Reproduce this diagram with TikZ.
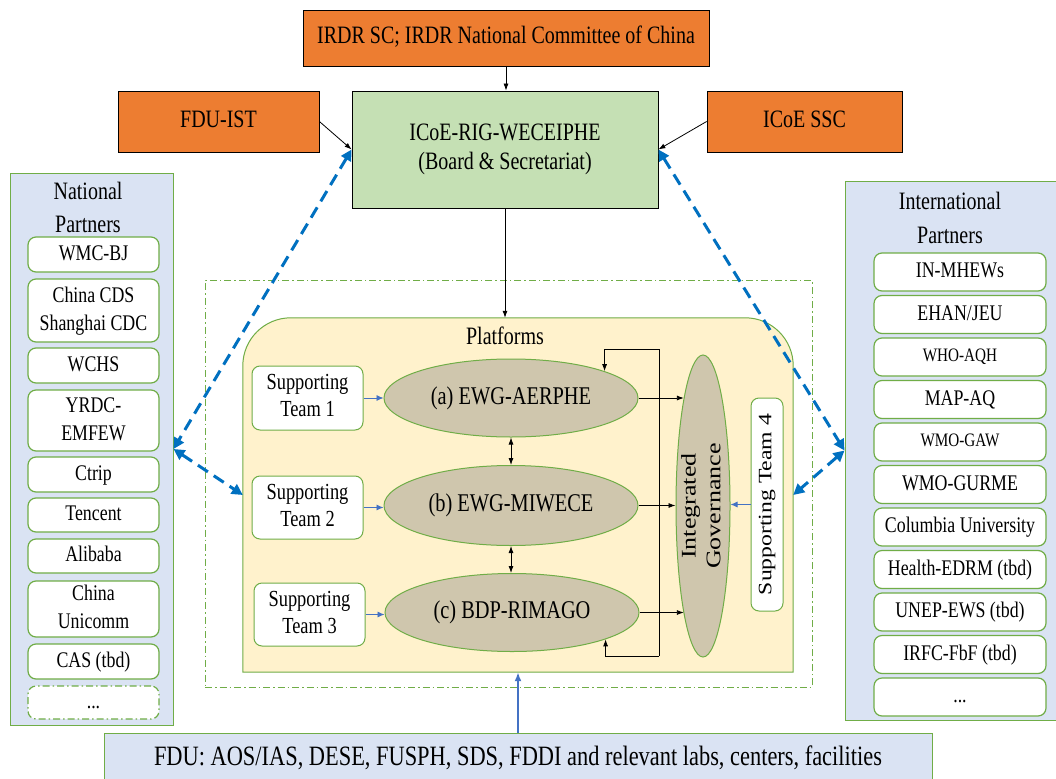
\documentclass[tikz,border=0pt]{standalone}
\usepackage{fontspec}
\setmainfont{Liberation Serif}
\usetikzlibrary{arrows.meta,shapes.geometric,calc}
\newcommand{\sq}[1]{\scalebox{0.8}[1]{\begin{tabular}{@{}c@{}}#1\end{tabular}}}
\newcommand{\sqv}[1]{\rotatebox{90}{\scalebox{1}[0.8]{\begin{tabular}{@{}c@{}}#1\end{tabular}}}}
\definecolor{orng}{HTML}{ED7D31}
\definecolor{rigg}{HTML}{C5E0B4}
\definecolor{pblue}{HTML}{DAE3F3}
\definecolor{bgreen}{HTML}{70AD47}
\definecolor{ylw}{HTML}{FFF2CC}
\definecolor{ellfill}{HTML}{CFC6AD}
\definecolor{dblue}{HTML}{0070C0}
\definecolor{lblue}{HTML}{4472C4}
\tikzset{
  orgbox/.style={draw=black, line width=0.8pt, fill=orng, font=\fontsize{25}{29}\selectfont, inner sep=0pt, align=center},
  rigbox/.style={orgbox, fill=rigg},
  panel/.style={draw=bgreen, line width=1pt, fill=pblue, inner sep=0pt},
  pbox/.style={draw=bgreen, line width=1.2pt, fill=white, rounded corners=8pt, font=\fontsize{22.3}{28}\selectfont, align=center, inner sep=0pt, minimum width=131pt},
  ibox/.style={pbox, minimum width=172pt, minimum height=38pt},
  stbox/.style={draw=bgreen, fill=white, rounded corners=8pt, line width=1pt, font=\fontsize{23}{27}\selectfont, align=center, inner sep=0pt},
  ellnode/.style={ellipse, draw=bgreen, line width=1pt, fill=ellfill, inner sep=0pt, font=\fontsize{25.5}{30}\selectfont},
  blk/.style={-{Latex[length=7pt,width=5pt]}, line width=0.8pt},
  dblk/.style={{Latex[length=7pt,width=5pt]}-{Latex[length=7pt,width=5pt]}, line width=0.8pt},
  thinblue/.style={-{Latex[length=7pt,width=6pt]}, draw=lblue, line width=0.8pt},
  dashblue/.style={{Triangle[length=11pt,width=11pt]}-{Triangle[length=11pt,width=11pt]}, draw=dblue, line width=3pt, dash pattern=on 12pt off 7pt},
  dashdot/.style={dash pattern=on 7pt off 3pt on 1.5pt off 3pt}
}
\begin{document}
\begin{tikzpicture}[x=1pt,y=-1pt]
\useasboundingbox (0,0) rectangle (1056,778);
\fill[white] (0,0) rectangle (1056,778);

% top boxes
\node[orgbox, minimum width=406pt, minimum height=56pt] (irdr) at (506,38) {\sq{IRDR SC; IRDR National Committee of China}};
\node[orgbox, minimum width=201pt, minimum height=61pt] (fduist) at (218.5,121.5) {\sq{FDU-IST}};
\node[orgbox, minimum width=195pt, minimum height=61pt] (ssc) at (804.5,121.5) {\sq{ICoE SSC}};
\node[rigbox, minimum width=306pt, minimum height=117pt] (rig) at (505,149.5) {\sq{ICoE-RIG-WECEIPHE\\(Board \& Secretariat)}};

% national partners
\node[panel, minimum width=163pt, minimum height=552pt] (nat) at (91.5,449) {};
\node[font=\fontsize{25}{33}\selectfont, align=center] (natt) at (88,209) {\sq{National\\Partners}};
\node[pbox, minimum height=35pt] (n1) at (93.5,254.5) {\sq{WMC-BJ}};
\node[pbox, minimum height=63pt] (n2) at (93.5,310.5) {\sq{China CDS\\Shanghai CDC}};
\node[pbox, minimum height=35pt] (n3) at (93.5,365.5) {\sq{WCHS}};
\node[pbox, minimum height=61pt] (n4) at (93.5,420.5) {\sq{YRDC-\\EMFEW}};
\node[pbox, minimum height=35pt] (n5) at (93.5,474.5) {\sq{Ctrip}};
\node[pbox, minimum height=34pt] (n6) at (93.5,515) {\sq{Tencent}};
\node[pbox, minimum height=34pt] (n7) at (93.5,556) {\sq{Alibaba}};
\node[pbox, minimum height=56pt] (n8) at (93.5,609) {\sq{China\\Unicomm}};
\node[pbox, minimum height=35pt] (n9) at (93.5,661.5) {\sq{CAS (tbd)}};
\node[pbox, dashdot, minimum height=33pt] (n10) at (93.5,702.5) {\sq{...}};

% international partners
\node[panel, minimum width=215pt, minimum height=539pt] (intl) at (952.5,450.5) {};
\node[font=\fontsize{25}{34}\selectfont, align=center] (intlt) at (950,220) {\sq{International\\Partners}};
\node[ibox] (i1) at (960,272) {\sq{IN-MHEWs}};
\node[ibox] (i2) at (960,314.5) {\sq{EHAN/JEU}};
\node[ibox, font=\fontsize{19}{24}\selectfont] (i3) at (960,357) {\sq{WHO-AQH}};
\node[ibox] (i4) at (960,399.5) {\sq{MAP-AQ}};
\node[ibox, font=\fontsize{19}{24}\selectfont] (i5) at (960,442) {\sq{WMO-GAW}};
\node[ibox] (i6) at (960,484.5) {\sq{WMO-GURME}};
\node[ibox] (i7) at (960,527) {\sq{Columbia University}};
\node[ibox] (i8) at (960,569.5) {\sq{Health-EDRM (tbd)}};
\node[ibox] (i9) at (960,612) {\sq{UNEP-EWS (tbd)}};
\node[ibox] (i10) at (960,654.5) {\sq{IRFC-FbF (tbd)}};
\node[ibox] (i11) at (960,697) {\sq{...}};

% dash-dot frame and platforms panel
\node[draw=bgreen, line width=0.8pt, dashdot, minimum width=607pt, minimum height=407pt, inner sep=0pt] (dd) at (508.5,483.5) {};
\node[minimum width=550pt, minimum height=354pt, inner sep=0pt] (plat) at (518,495) {};
\path[draw=bgreen, fill=ylw, line width=1pt] (plat.west) [rounded corners=48pt] -- (plat.north west) -- (plat.north east) -- (plat.east) [sharp corners] -- (plat.south east) -- (plat.south west) -- cycle;
\node[font=\fontsize{25}{29}\selectfont] (platt) at (505,339) {\sq{Platforms}};

\node[stbox, minimum width=111pt, minimum height=64pt] (st1) at (307.5,398) {\sq{Supporting\\Team 1}};
\node[stbox, minimum width=111pt, minimum height=63pt] (st2) at (307.5,507.5) {\sq{Supporting\\Team 2}};
\node[stbox, minimum width=111pt, minimum height=63pt] (st3) at (309.5,614.5) {\sq{Supporting\\Team 3}};

\node[ellnode, minimum width=254pt, minimum height=78pt] (ea) at (511,398) {\sq{(a) EWG-AERPHE}};
\node[ellnode, minimum width=254pt, minimum height=80pt] (eb) at (511,505.5) {\sq{(b) EWG-MIWECE}};
\node[ellnode, minimum width=254pt, minimum height=78pt] (ec) at (512,612.5) {\sq{(c) BDP-RIMAGO}};

\node[ellnode, minimum width=54pt, minimum height=302pt] (ig) at (703,506) {};
\node[inner sep=0pt, font=\fontsize{26}{31}\selectfont] (igt) at (ig.center) {\sqv{Integrated\\Governance}};

\node[stbox, minimum width=32pt, minimum height=213pt] (st4) at (767,504.5) {};
\node[inner sep=0pt, font=\fontsize{23.7}{28}\selectfont] (st4t) at (st4.center) {\sqv{Supporting Team 4}};

% bottom FDU box
\node[panel, minimum width=828pt, minimum height=52pt, font=\fontsize{28}{32}\selectfont] (fdu) at (518,759) {\sq{FDU: AOS/IAS, DESE, FUSPH, SDS, FDDI and relevant labs, centers, facilities}};

% connectors
\draw[blk] (irdr.south) -- (irdr.south |- rig.north);
\draw[blk] (fduist.east) -- (rig.west);
\draw[blk] (ssc.west) -- (rig.east);
\draw[blk] (rig.south) -- (rig.south |- plat.north);
\draw[-{Latex[length=9pt,width=7pt]}, draw=lblue, line width=2.2pt] (fdu.north) -- (plat.south);

\draw[dashblue] (rig.west) -- (nat.east);
\draw[dashblue] (nat.east) -- (plat.west);
\draw[dashblue] (rig.east) -- (intl.west);
\draw[dashblue] (intl.west) -- (plat.east);

\draw[thinblue] (st1.east) -- (ea.west);
\draw[thinblue] (st2.east) -- (st2.east -| eb.west);
\draw[thinblue] (st3.east) -- (st3.east -| ec.west);
\draw[thinblue] (st4.west) -- (st4.west -| ig.east);

\draw[dblk] (ea.south) -- (eb.north);
\draw[dblk] (eb.south) -- (eb.south |- ec.north);

\draw[blk] (ea.east) -- (ea.east -| ig.100);
\draw[blk] (eb.east) -- (eb.east -| ig.west);
\draw[blk] (ec.east) -- (ec.east -| ig.260);

\coordinate (busT) at (659,349);
\coordinate (busB) at (659,656);
\draw[line width=0.8pt] (busT) -- (busB);
\draw[blk] (busT) -| (ea.16.5);
\draw[blk] (busB) -| (ec.-16.5);
\end{tikzpicture}
\end{document}
